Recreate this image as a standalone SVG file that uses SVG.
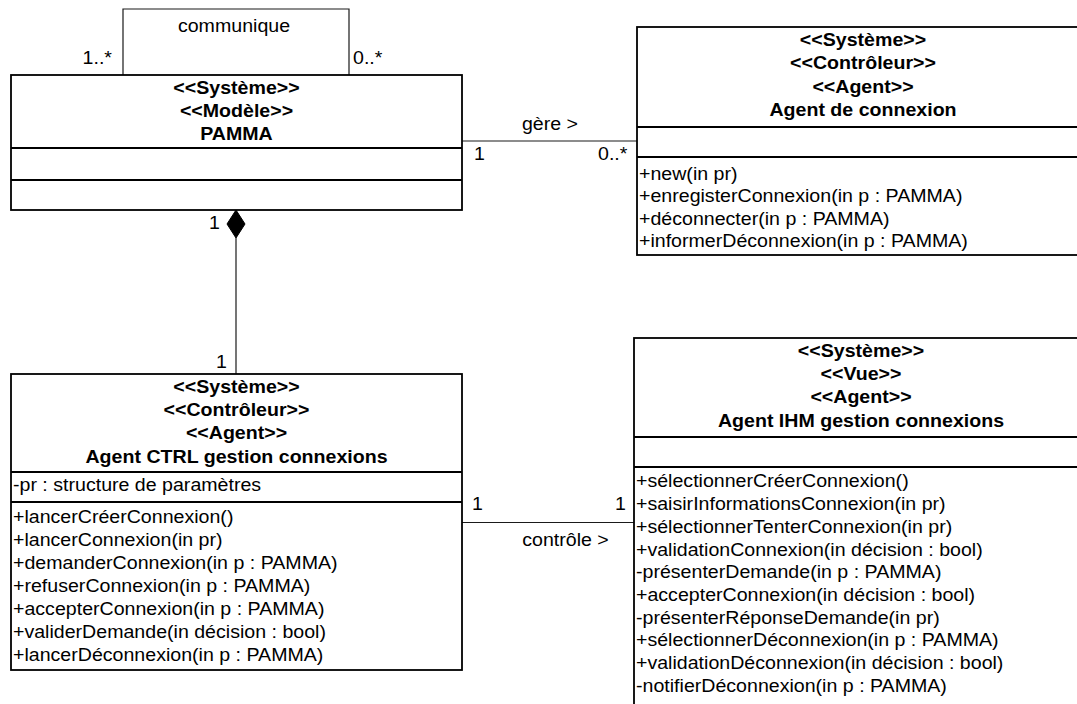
<svg xmlns="http://www.w3.org/2000/svg" width="1077" height="704" viewBox="0 0 1077 704">
<style>
.t{font-family:"Liberation Sans",Arial,sans-serif;font-size:17.5px;fill:#000}
.b{font-weight:bold}
.m{text-anchor:middle}
.e{text-anchor:end}
.box{fill:#fff;stroke:#000;stroke-width:1.8}
.dv{stroke:#000;stroke-width:1.8}
.c{fill:none;stroke:#1a1a1a;stroke-width:1.2}
</style>
<rect width="1077" height="704" fill="#fff"/>
<g id="connectors">
<path class="c" d="M123,75 V9 H349 V75"/>
<path class="c" d="M462,141 H637"/>
<path class="c" d="M236,238 V374"/>
<polygon points="236,210 245,224 236,238 227,224" fill="#000" stroke="#000" stroke-width="1"/>
<path class="c" d="M462,522.5 H634"/>
<g class="t">
<text class="m" transform="translate(234,32) scale(1.12,1)">communique</text>
<text class="e" transform="translate(112,64) scale(1.12,1)">1..*</text>
<text transform="translate(353,64) scale(1.12,1)">0..*</text>
<text class="m" transform="translate(550,130) scale(1.12,1)">gère &gt;</text>
<text transform="translate(474,160) scale(1.12,1)">1</text>
<text transform="translate(598,160) scale(1.12,1)">0..*</text>
<text transform="translate(209,229) scale(1.12,1)">1</text>
<text transform="translate(216,368) scale(1.12,1)">1</text>
<text transform="translate(472,510) scale(1.12,1)">1</text>
<text class="e" transform="translate(626,510) scale(1.12,1)">1</text>
<text class="m" transform="translate(565.5,546) scale(1.12,1)">contrôle &gt;</text>
</g>
</g>
<g id="pamma">
<rect class="box" x="11" y="75" width="451" height="135"/>
<line class="dv" x1="11" y1="148" x2="462" y2="148"/>
<line class="dv" x1="11" y1="180" x2="462" y2="180"/>
<g class="t b m" transform="translate(236.5,0) scale(1.12,1)">
<text y="94">&lt;&lt;Système&gt;&gt;</text>
<text y="117">&lt;&lt;Modèle&gt;&gt;</text>
<text y="140">PAMMA</text>
</g>
</g>
<g id="agent-connexion">
<rect class="box" x="637" y="27" width="460" height="228"/>
<line class="dv" x1="637" y1="127" x2="1097" y2="127"/>
<line class="dv" x1="637" y1="157" x2="1097" y2="157"/>
<g class="t b m" transform="translate(863,0) scale(1.12,1)">
<text y="46">&lt;&lt;Système&gt;&gt;</text>
<text y="69">&lt;&lt;Contrôleur&gt;&gt;</text>
<text y="93">&lt;&lt;Agent&gt;&gt;</text>
<text y="116">Agent de connexion</text>
</g>
<g class="t" transform="translate(639,0) scale(1.12,1)">
<text y="180">+new(in pr)</text>
<text y="202.5">+enregisterConnexion(in p : PAMMA)</text>
<text y="225">+déconnecter(in p : PAMMA)</text>
<text y="247.5">+informerDéconnexion(in p : PAMMA)</text>
</g>
</g>
<g id="agent-ctrl">
<rect class="box" x="11" y="374" width="451" height="296"/>
<line class="dv" x1="11" y1="472" x2="462" y2="472"/>
<line class="dv" x1="11" y1="502" x2="462" y2="502"/>
<g class="t b m" transform="translate(236.5,0) scale(1.12,1)">
<text y="393">&lt;&lt;Système&gt;&gt;</text>
<text y="416">&lt;&lt;Contrôleur&gt;&gt;</text>
<text y="439">&lt;&lt;Agent&gt;&gt;</text>
<text y="463">Agent CTRL gestion connexions</text>
</g>
<g class="t" transform="translate(13,0) scale(1.12,1)">
<text y="491">-pr : structure de paramètres</text>
<text y="523">+lancerCréerConnexion()</text>
<text y="546">+lancerConnexion(in pr)</text>
<text y="569">+demanderConnexion(in p : PAMMA)</text>
<text y="592">+refuserConnexion(in p : PAMMA)</text>
<text y="615">+accepterConnexion(in p : PAMMA)</text>
<text y="638">+validerDemande(in décision : bool)</text>
<text y="661">+lancerDéconnexion(in p : PAMMA)</text>
</g>
</g>
<g id="agent-ihm">
<rect class="box" x="634" y="338" width="460" height="400"/>
<line class="dv" x1="634" y1="437" x2="1094" y2="437"/>
<line class="dv" x1="634" y1="467" x2="1094" y2="467"/>
<g class="t b m" transform="translate(861,0) scale(1.12,1)">
<text y="357">&lt;&lt;Système&gt;&gt;</text>
<text y="380">&lt;&lt;Vue&gt;&gt;</text>
<text y="403">&lt;&lt;Agent&gt;&gt;</text>
<text y="427">Agent IHM gestion connexions</text>
</g>
<g class="t" transform="translate(636,0) scale(1.12,1)">
<text y="487.5">+sélectionnerCréerConnexion()</text>
<text y="510.2">+saisirInformationsConnexion(in pr)</text>
<text y="532.9">+sélectionnerTenterConnexion(in pr)</text>
<text y="555.6">+validationConnexion(in décision : bool)</text>
<text y="578.3">-présenterDemande(in p : PAMMA)</text>
<text y="601">+accepterConnexion(in décision : bool)</text>
<text y="623.7">-présenterRéponseDemande(in pr)</text>
<text y="646.4">+sélectionnerDéconnexion(in p : PAMMA)</text>
<text y="669.1">+validationDéconnexion(in décision : bool)</text>
<text y="691.8">-notifierDéconnexion(in p : PAMMA)</text>
</g>
</g>
</svg>
